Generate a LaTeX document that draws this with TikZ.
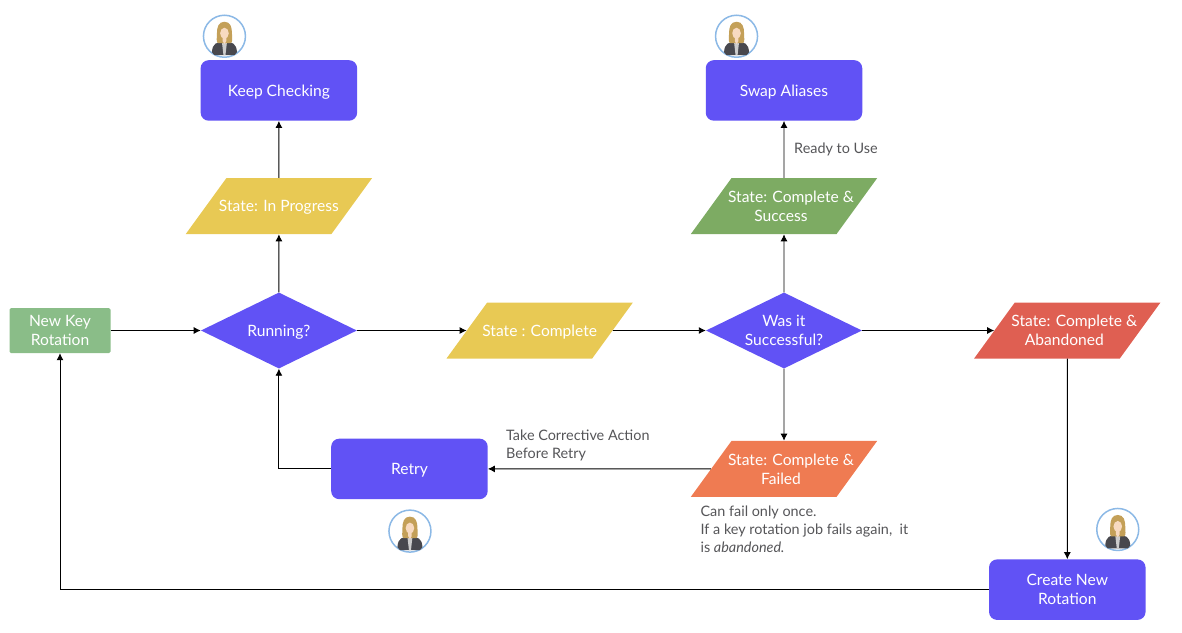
\documentclass[tikz,border=0pt]{standalone}
\usepackage{fontspec}
\setmainfont{Lato}
\usepackage{xcolor}
\definecolor{dpurple}{RGB}{97,82,245}
\definecolor{lgreen}{RGB}{138,189,136}
\definecolor{dyellow}{RGB}{232,201,84}
\definecolor{dgreen}{RGB}{125,171,99}
\definecolor{dred}{RGB}{223,95,82}
\definecolor{dorange}{RGB}{239,123,82}
\definecolor{notegray}{RGB}{85,85,88}
\definecolor{ringblue}{RGB}{140,185,230}
\definecolor{hairtan}{RGB}{196,160,88}
\definecolor{skintan}{RGB}{248,218,192}
\definecolor{suitgray}{RGB}{72,72,78}
\usetikzlibrary{arrows.meta,shapes.geometric,positioning,calc}
% fixed text box, so every parallelogram gets the same slant
\newcommand{\sttext}[1]{\makebox[105pt][c]{\parbox[c][56pt][c]{145pt}{\centering #1}}}
% two lines as the reference sets them: the first pushed right, the second left
\newcommand{\sttwo}[1]{\sttext{\hspace*{14pt}State: Complete \&\\#1\hspace*{6pt}}}

\begin{document}
\begin{tikzpicture}[
  x=1pt,y=1pt,
  lbl/.style={font=\fontsize{15.6}{19}\selectfont,text=white,align=center},
  oneline/.style={text depth=0pt},
  pbox/.style={rectangle,rounded corners=8pt,fill=dpurple,lbl,minimum width=156.5pt,minimum height=60.5pt,inner sep=0pt},
  startbox/.style={rectangle,rounded corners=1.5pt,fill=lgreen,lbl,minimum width=101pt,minimum height=45pt,inner sep=0pt},
  dbox/.style={diamond,aspect=2,fill=dpurple,lbl,minimum width=156pt,minimum height=76pt,inner sep=0pt},
  sbox/.style={trapezium,trapezium left angle=54,trapezium right angle=126,font=\fontsize{15.6}{19}\selectfont,text=white,inner sep=0pt},
  note/.style={font=\fontsize{14.4}{18}\selectfont,text=notegray,align=left,inner sep=0pt},
  avatar/.style={circle,draw=ringblue,line width=1.5pt,fill=white,minimum size=42pt,inner sep=0pt},
  arrow/.style={-{Latex[length=7pt,width=7pt]},line width=0.9pt,black},
  agent/.pic={
    \fill[suitgray] (-12.5,-16) .. controls (-12,-7) and (-8,-6) .. (0,-5) .. controls (8,-6) and (12,-7) .. (12.5,-16) -- (10,-19) -- (-10,-19) -- cycle;
    \fill[black!20] (-2.5,-6) -- (2.5,-6) -- (1,-19) -- (-1,-19) -- cycle;
    \fill[hairtan] (0,14.5) .. controls (-6,14.5) and (-7.5,9) .. (-7.5,3) .. controls (-7.5,-2) and (-8.5,-5) .. (-6.5,-7) -- (-3,-7) -- (3,-7) -- (6.5,-7) .. controls (8.5,-5) and (7.5,-2) .. (7.5,3) .. controls (7.5,9) and (6,14.5) .. (0,14.5) -- cycle;
    \fill[skintan] (0,3) ellipse (4.3 and 5.5);
    \fill[skintan] (-1.8,-1) -- (1.8,-1) -- (1.8,-5) -- (0,-8) -- (-1.8,-5) -- cycle;
  }
]
  \useasboundingbox (0,0) rectangle (1182,-632);

  \node[startbox] (start) at (60,-330.5) {New Key\\Rotation};
  \node[dbox,oneline,right=90pt of start] (running) {Running?};
  \node[sbox,fill=dyellow,above=58pt of running] (progress) {\sttext{\vspace*{2pt}State: In Progress}};
  \node[pbox,oneline,above=57pt of progress] (keep) {Keep Checking};
  \node[sbox,fill=dyellow,right=109.5pt of running] (complete) {\sttext{\vspace*{3pt}State : Complete}};
  \node[dbox,right=93pt of complete] (success) {Was it\\Successful?};
  \node[sbox,fill=dgreen,above=58pt of success] (good) {\sttwo{Success}};
  \node[pbox,oneline,above=57pt of good] (swap) {Swap Aliases};
  \node[sbox,fill=dred,right=132pt of success] (abandon) {\sttwo{Abandoned}};
  \node[sbox,fill=dorange,below=72pt of success] (failed) {\sttwo{Failed}};
  \node[pbox,oneline,left=223pt of failed] (retry) {Retry};
  \node[pbox,below=200.5pt of abandon] (create) {Create New\\Rotation};

  \node[avatar,above=2pt of keep.north west,xshift=24pt] (keepav) {};
  \node[avatar,above=2pt of swap.north west,xshift=31pt] (swapav) {};
  \node[avatar,below=10pt of retry.south,xshift=0.5pt] (retryav) {};
  \node[avatar,above=8pt of create.north east,xshift=-28pt] (createav) {};
  \foreach \who in {keepav,swapav,retryav,createav}
    \pic at (\who) {agent};

  \draw[arrow] (start) -- (running);
  \draw[arrow] (running) -- (progress);
  \draw[arrow] (progress) -- (keep);
  \draw[arrow] (running) -- (complete);
  \draw[arrow] (complete) -- (success);
  \draw[arrow] (success) -- (good);
  \draw[arrow] (good) -- (swap);
  \draw[arrow] (success) -- (abandon);
  \draw[arrow] (success) -- (failed);
  \draw[arrow] (failed) -- (retry);
  \draw[arrow] (retry) -| (running);
  \draw[arrow] (abandon) -- (create);
  \draw[arrow] (create) -| (start);

  \node[note,right=10pt of {$(good.north)!0.5!(swap.south)$}] (ready) {Ready to Use};
  \node[note,above right=7.5pt and 18pt of retry.east] (action) {Take Corrective Action\\Before Retry};
  \node[note,below right=9pt and 10pt of failed.bottom left corner] (once) {Can fail only once.\\If a key rotation job fails again,~ it\\is \textit{abandoned.}};
\end{tikzpicture}
\end{document}
